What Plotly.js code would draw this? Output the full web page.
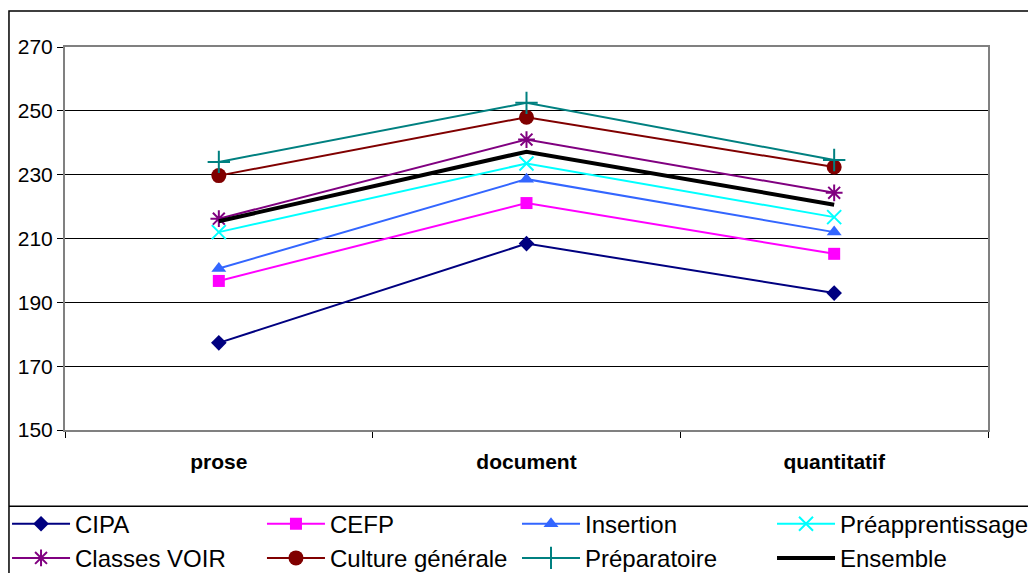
<!DOCTYPE html>
<html>
<head>
<meta charset="utf-8">
<script src="https://cdn.plot.ly/plotly-3.0.1.min.js"></script>
<style>html,body{margin:0;padding:0;background:#fff;}#chart{width:1028px;height:573px;}</style>
</head>
<body>
<div id="chart"></div>
<script>
const categories = ["prose", "document", "quantitatif"];
const seriesNames = ["CIPA", "CEFP", "Insertion", "Préapprentissage", "Classes VOIR", "Culture générale", "Préparatoire", "Ensemble"];
const cipa = [177.3, 208.4, 192.9];
const cefp = [196.7, 221.1, 205.2];
const insertion = [200.6, 228.6, 212.0];
const preapprentissage = [212.0, 233.5, 216.7];
const classesVoir = [216.2, 241.0, 224.3];
const cultureGenerale = [229.7, 248.0, 232.4];
const preparatoire = [234.0, 252.5, 234.6];
const ensemble = [215.4, 237.2, 220.6];
const yTicks = [150, 170, 190, 210, 230, 250, 270];

const values = [cipa, cefp, insertion, preapprentissage, classesVoir, cultureGenerale, preparatoire, ensemble];
const colors = ["#000080", "#FF00FF", "#3366FF", "#00FFFF", "#800080", "#800000", "#008080", "#000000"];
const symbols = ["diamond", "square", "triangle-up", "x-thin-open", "asterisk-open", "circle", "cross-thin-open", "circle"];
const sizes = [12, 12, 13, 14, 14, 15, 16, 0];
// legend column for each series (4 columns, 2 rows)
const legendIds = ["legend", "legend2", "legend3", "legend4", "legend", "legend2", "legend3", "legend4"];

const traces = values.map((v, i) => {
  const isEns = i === 7;
  return {
    type: "scatter",
    mode: isEns ? "lines" : "lines+markers",
    name: seriesNames[i],
    legend: legendIds[i],
    x: categories,
    y: v,
    line: {color: colors[i], width: isEns ? 4 : 2},
    marker: {symbol: symbols[i], size: sizes[i], color: colors[i],
             line: {color: colors[i], width: (symbols[i].indexOf("open") >= 0) ? 2 : 0}}
  };
});

const legendBase = {
  orientation: "v", xanchor: "left", y: -0.187, yanchor: "top",
  font: {size: 24}, itemwidth: 58,
  bgcolor: "rgba(0,0,0,0)", borderwidth: 0, traceorder: "normal"
};
const legendX = [-0.0628, 0.2134, 0.4897, 0.7660];

const layout = {
  width: 1028, height: 573,
  margin: {l: 65, r: 40, t: 47, b: 143, autoexpand: false},
  paper_bgcolor: "#fff", plot_bgcolor: "#fff",
  font: {family: "Liberation Sans, Arial, sans-serif", color: "#000"},
  showlegend: true,
  xaxis: {
    type: "category", range: [-0.5, 2.5], tickson: "boundaries",
    ticks: "outside", ticklen: 6, tickcolor: "#000", tickwidth: 1,
    showline: true, linecolor: "#808080", linewidth: 2, mirror: true,
    showgrid: false, zeroline: false,
    tickfont: {size: 21, family: "Liberation Sans, Arial, sans-serif", weight: "bold"},
    ticklabelstandoff: 12
  },
  yaxis: {
    range: [150, 270], tickvals: yTicks, ticktext: yTicks.map(String),
    ticks: "outside", ticklen: 6, tickcolor: "#000",
    showline: true, linecolor: "#808080", linewidth: 2, mirror: true,
    showgrid: true, gridcolor: "#000", gridwidth: 1, zeroline: false,
    tickfont: {size: 21}
  },
  legend: Object.assign({}, legendBase, {x: legendX[0]}),
  legend2: Object.assign({}, legendBase, {x: legendX[1]}),
  legend3: Object.assign({}, legendBase, {x: legendX[2]}),
  legend4: Object.assign({}, legendBase, {x: legendX[3]}),
  shapes: [
    {type: "rect", xref: "paper", yref: "paper", x0: -0.0607, x1: 1.06, y0: -0.45, y1: 1.094,
     line: {color: "#000", width: 1.5}, fillcolor: "rgba(0,0,0,0)"},
    {type: "line", xref: "paper", yref: "paper", x0: -0.0607, x1: 1.06, y0: -0.199, y1: -0.199,
     line: {color: "#000", width: 1.5}}
  ]
};

Plotly.newPlot("chart", traces, layout, {staticPlot: true, displayModeBar: false});
</script>
</body>
</html>
